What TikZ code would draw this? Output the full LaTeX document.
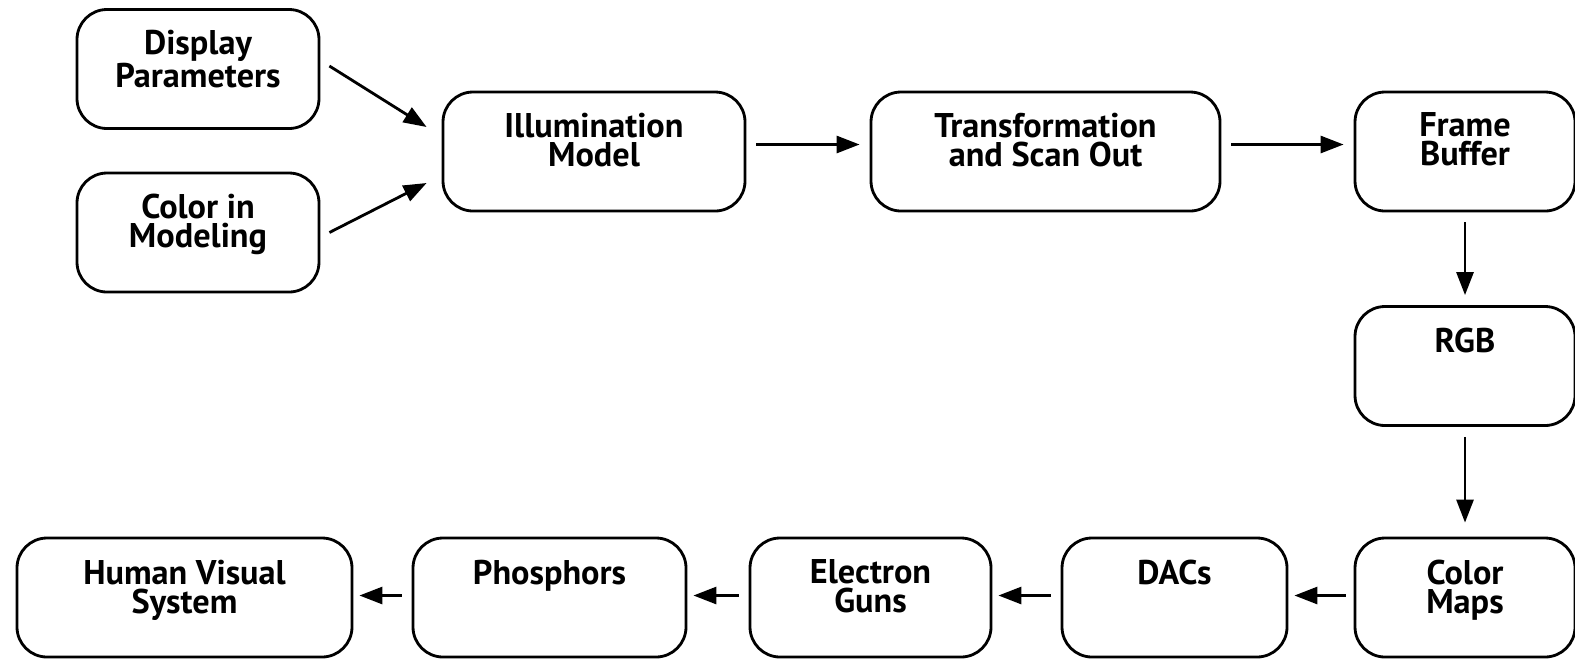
\documentclass[tikz,border=0pt]{standalone}
\usepackage{fontspec}
\setmainfont{PT Sans}
\usepackage{tikz}
\usetikzlibrary{arrows.meta}

\begin{document}
\begin{tikzpicture}[
        box/.style={draw, line width=\linethick, rounded corners=0.6cm, minimum height=2.38cm, inner sep=0pt},
        txt/.style={anchor=north, align=center, inner sep=0pt, font=\bfseries\fontsize{19.5}{16.5}\selectfont},
        arr/.style={line width=\linethick, -{Triangle[length=0.46cm, width=0.34cm]}}
    ]

        \def\linethick{1.6pt}
        \def\gap{0.2cm}

        \useasboundingbox (0, 0) rectangle (31.5, -13.18);

        % boxes
        \node[box, minimum width=4.84cm] (disp) at (3.96, -1.38) {};
        \node[box, minimum width=4.84cm] (cmod) at (3.96, -4.65) {};
        \node[box, minimum width=6.04cm] (illum) at (11.88, -3.03) {};
        \node[box, minimum width=6.98cm] (trans) at (20.91, -3.03) {};
        \node[box, minimum width=4.4cm] (frame) at (29.3, -3.03) {};
        \node[box, minimum width=4.4cm] (rgb) at (29.3, -7.32) {};
        \node[box, minimum width=4.4cm] (cmaps) at (29.3, -11.95) {};
        \node[box, minimum width=4.5cm] (dacs) at (23.49, -11.95) {};
        \node[box, minimum width=4.82cm] (guns) at (17.41, -11.95) {};
        \node[box, minimum width=5.46cm] (phos) at (10.99, -11.95) {};
        \node[box, minimum width=6.7cm] (hvs) at (3.69, -11.95) {};

        % texts
        \node[txt] (disp-t) at ([yshift=-0.44cm]disp.north) {Display\\Parameters};
        \node[txt] (cmod-t) at ([yshift=-0.44cm]cmod.north) {Color in\\Modeling};
        \node[txt] (illum-t) at ([yshift=-0.44cm]illum.north) {Illumination\\Model};
        \node[txt] (trans-t) at ([yshift=-0.44cm]trans.north) {Transformation\\and Scan Out};
        \node[txt] (frame-t) at ([yshift=-0.44cm]frame.north) {Frame\\Buffer};
        \node[txt] (rgb-t) at ([yshift=-0.46cm]rgb.north) {RGB};
        \node[txt] (cmaps-t) at ([yshift=-0.46cm]cmaps.north) {Color\\Maps};
        \node[txt] (dacs-t) at ([yshift=-0.46cm]dacs.north) {DACs};
        \node[txt] (guns-t) at ([yshift=-0.46cm]guns.north) {Electron\\Guns};
        \node[txt] (phos-t) at ([yshift=-0.46cm]phos.north) {Phosphors};
        \node[txt] (hvs-t) at ([yshift=-0.46cm]hvs.north) {Human Visual\\System};

        % inputs
        \draw[arr] ([xshift=0.18cm, yshift=0.06cm]disp.east) -- ([xshift=-0.3cm, yshift=0.49cm]illum.west);
        \draw[arr] ([xshift=0.18cm]cmod.east) -- ([xshift=-0.3cm, yshift=-0.63cm]illum.west);

        % top row
        \draw[arr, shorten <=\gap, shorten >=\gap] ([yshift=0.14cm]illum.east) -- ([yshift=0.14cm]trans.west);
        \draw[arr, shorten <=\gap, shorten >=\gap] ([yshift=0.14cm]trans.east) -- ([yshift=0.14cm]frame.west);

        % right column
        \draw[arr, shorten <=\gap, shorten >=\gap] (frame) -- (rgb);
        \draw[arr, shorten <=\gap, shorten >=0.28cm] (rgb) -- (cmaps);

        % bottom row
        \draw[arr, shorten <=0.16cm, shorten >=0.12cm] ([yshift=0.04cm]cmaps.west) -- ([yshift=0.04cm]dacs.east);
        \draw[arr, shorten <=0.2cm, shorten >=0.12cm] ([yshift=0.04cm]dacs.west) -- ([yshift=0.04cm]guns.east);
        \draw[arr, shorten <=0.2cm, shorten >=0.12cm] ([yshift=0.04cm]guns.west) -- ([yshift=0.04cm]phos.east);
        \draw[arr, shorten <=0.2cm, shorten >=0.12cm] ([yshift=0.04cm]phos.west) -- ([yshift=0.04cm]hvs.east);

    \end{tikzpicture}
\end{document}
